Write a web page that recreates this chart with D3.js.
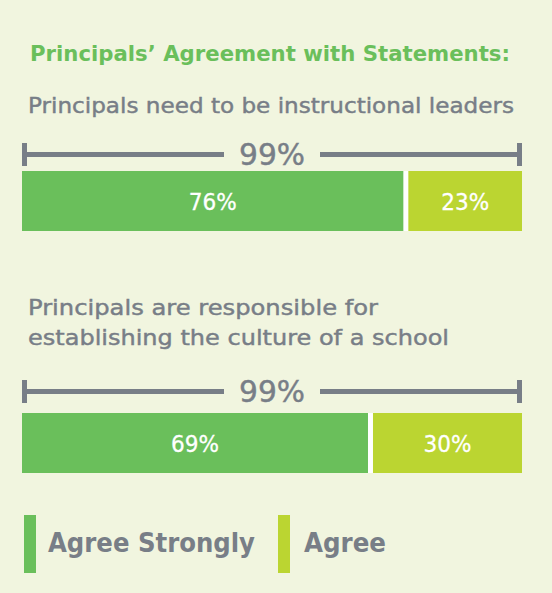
<!DOCTYPE html>
<html>
<head>
<meta charset="utf-8">
<script src="https://cdn.jsdelivr.net/npm/d3@7"></script>
<style>
  html, body { margin: 0; padding: 0; background: #f1f5df; }
  svg { display: block; }
  text { font-family: "DejaVu Sans", "Noto Sans", sans-serif; }
</style>
</head>
<body>
<svg id="chart" width="552" height="593"></svg>
<script>
// Survey statements and response shares (percent)
const title = "Principals’ Agreement with Statements:";
const statements = [
  ["Principals need to be instructional leaders"],
  ["Principals are responsible for", "establishing the culture of a school"]
];
const agreeStrongly = [76, 69];
const agree = [23, 30];
const totals = [99, 99];
const seriesNames = ["Agree Strongly", "Agree"];

const colors = { strong: "#6abf5b", agree: "#bbd531", gray: "#787e87", bg: "#f1f5df", title: "#6abf5b" };

const svg = d3.select("#chart");
const W = 552, H = 593;

svg.append("rect").attr("width", W).attr("height", H).attr("fill", colors.bg);

// horizontal scale: full bar spans the total share
const x = d3.scaleLinear().domain([0, 99]).range([22, 522]);

// set a text's rendered width (glyphs squeezed/stretched to fit)
function fitW(sel, width) {
  return sel.attr("textLength", width).attr("lengthAdjust", "spacingAndGlyphs");
}
// medium weight: regular face with a thin outline in the fill colour
function medium(sel, c) {
  return sel.attr("stroke", c).attr("stroke-width", 0.45);
}

fitW(svg.append("text").attr("x", 30).attr("y", 61).attr("font-size", 21.5)
  .attr("font-weight", "bold").attr("fill", colors.title).text(title), 480);

const layout = [
  { labelY: [113], bracketY: 154.5, barY: 171, barH: 60, labelW: [486] },
  { labelY: [315, 345], bracketY: 391.5, barY: 413, barH: 60, labelW: [350, 421] }
];

statements.forEach((lines, i) => {
  const L = layout[i];
  const g = svg.append("g");
  lines.forEach((ln, j) => {
    medium(fitW(g.append("text").attr("x", 28).attr("y", L.labelY[j]).attr("font-size", 21.5)
      .attr("fill", colors.gray).text(ln), L.labelW[j]), colors.gray);
  });

  // bracket showing total agreement
  const cx = (x(0) + x(totals[i])) / 2;
  medium(fitW(g.append("text").attr("x", cx - 33).attr("y", L.bracketY + 10.5)
    .attr("font-size", 30).attr("fill", colors.gray)
    .text(totals[i] + "%"), 66), colors.gray);
  const half = 48;
  g.append("line").attr("x1", x(0)).attr("x2", cx - half)
    .attr("y1", L.bracketY).attr("y2", L.bracketY)
    .attr("stroke", colors.gray).attr("stroke-width", 5);
  g.append("line").attr("x1", cx + half).attr("x2", x(totals[i]))
    .attr("y1", L.bracketY).attr("y2", L.bracketY)
    .attr("stroke", colors.gray).attr("stroke-width", 5);
  [x(0), x(totals[i]) - 5].forEach(px => {
    g.append("rect").attr("x", px).attr("y", L.bracketY - 11.5)
      .attr("width", 5).attr("height", 23).attr("fill", colors.gray);
  });

  // stacked bar
  const gap = 5;
  const segs = [
    { x0: x(0), x1: x(agreeStrongly[i]) - gap / 2, v: agreeStrongly[i], c: colors.strong },
    { x0: x(agreeStrongly[i]) + gap / 2, x1: x(agreeStrongly[i] + agree[i]), v: agree[i], c: colors.agree }
  ];
  g.append("rect").attr("x", x(0)).attr("y", L.barY)
    .attr("width", x(totals[i]) - x(0)).attr("height", L.barH).attr("fill", "#ffffff");
  g.selectAll("rect.seg").data(segs).join("rect").attr("class", "seg")
    .attr("x", d => d.x0).attr("y", L.barY)
    .attr("width", d => d.x1 - d.x0).attr("height", L.barH).attr("fill", d => d.c);
  g.selectAll("text.val").data(segs).join("text").attr("class", "val")
    .attr("x", d => (d.x0 + d.x1) / 2 - 24).attr("y", L.barY + L.barH / 2 + 9)
    .attr("font-size", 23).attr("fill", "#ffffff")
    .attr("stroke", "#ffffff").attr("stroke-width", 0.3)
    .attr("textLength", 48).attr("lengthAdjust", "spacingAndGlyphs")
    .text(d => d.v + "%");
});

// legend
const legend = [
  { name: seriesNames[0], c: colors.strong, sx: 24, tx: 48, tw: 207 },
  { name: seriesNames[1], c: colors.agree, sx: 278, tx: 304, tw: 82 }
];
legend.forEach(d => {
  svg.append("rect").attr("x", d.sx).attr("y", 515).attr("width", 12).attr("height", 58).attr("fill", d.c);
  fitW(svg.append("text").attr("x", d.tx).attr("y", 552).attr("font-size", 26)
    .attr("font-weight", "bold").attr("fill", colors.gray).text(d.name), d.tw);
});
</script>
</body>
</html>
